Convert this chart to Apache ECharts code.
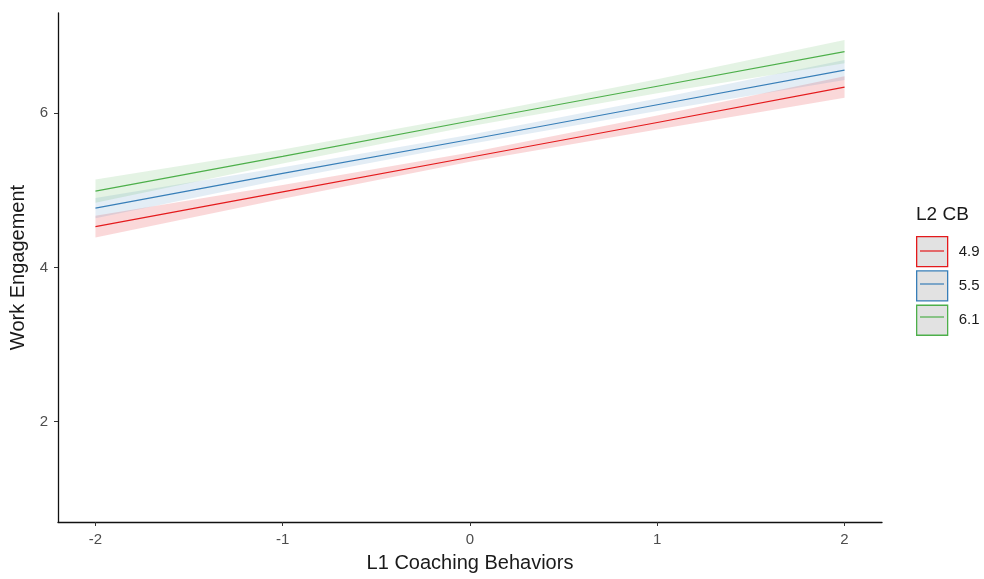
<!DOCTYPE html>
<html><head><meta charset="utf-8">
<script src="https://cdn.jsdelivr.net/npm/echarts@6/dist/echarts.min.js"></script>
<style>html,body{margin:0;padding:0;background:#fff}#c{width:984px;height:579px}</style>
</head><body><div id="c"></div>
<script>
// ---- data ----
const xValues = [-2, -1, 0, 1, 2];
const groupNames = ['4.9', '5.5', '6.1'];
const fit49 = [4.53, 4.98, 5.43, 5.88, 6.34];
const lower49 = [4.39, 4.89, 5.37, 5.79, 6.20];
const upper49 = [4.67, 5.07, 5.49, 5.97, 6.48];
const fit55 = [4.77, 5.22, 5.66, 6.11, 6.56];
const lower55 = [4.64, 5.14, 5.60, 6.03, 6.43];
const upper55 = [4.90, 5.30, 5.72, 6.19, 6.69];
const fit61 = [4.99, 5.44, 5.90, 6.35, 6.80];
const lower61 = [4.84, 5.35, 5.83, 6.26, 6.65];
const upper61 = [5.14, 5.53, 5.97, 6.44, 6.95];
const xTicks = [-2, -1, 0, 1, 2];
const yTicks = [2, 4, 6];

const colors = ['#E41A1C', '#377EB8', '#4DAF4A'];
const bandFills = ['rgba(228,26,28,0.17)', 'rgba(55,126,184,0.14)', 'rgba(77,175,74,0.15)'];
const fits = [fit49, fit55, fit61];
const lowers = [lower49, lower55, lower61];
const uppers = [upper49, upper55, upper61];
const FONT = 'Liberation Sans, Arial, sans-serif';

const series = [];
groupNames.forEach((g, k) => {
  const data = xValues.map((x, i) => [x, lowers[k][i], uppers[k][i]]);
  series.push({
    type: 'custom', name: 'band ' + g, silent: true, z: 1,
    data: data,
    encode: { x: 0, y: [1, 2] },
    renderItem: function (params, api) {
      if (params.dataIndex !== 0) return;
      const top = data.map(d => api.coord([d[0], d[2]]));
      const bot = data.slice().reverse().map(d => api.coord([d[0], d[1]]));
      return { type: 'polygon', shape: { points: top.concat(bot) }, style: { fill: bandFills[k], stroke: null } };
    }
  });
});
groupNames.forEach((g, k) => {
  series.push({
    type: 'line', name: g, z: 3, symbol: 'none', silent: true,
    data: xValues.map((x, i) => [x, fits[k][i]]),
    lineStyle: { color: colors[k], width: 1.2 }, itemStyle: { color: colors[k] }
  });
});

const chart = echarts.init(document.getElementById('c'));
chart.setOption({
  animation: false,
  backgroundColor: '#ffffff',
  grid: { left: 58, right: 102, top: 13, bottom: 57, containLabel: false },
  xAxis: {
    type: 'value', min: -2.2, max: 2.2,
    name: 'L1 Coaching Behaviors', nameLocation: 'middle', nameGap: 31,
    nameTextStyle: { fontFamily: FONT, fontSize: 20, color: '#1a1a1a' },
    splitLine: { show: false },
    axisLine: { show: true, onZero: false, lineStyle: { color: '#111', width: 1.3 } },
    axisTick: { show: true, length: 4, customValues: xTicks, lineStyle: { color: '#333' } },
    axisLabel: { customValues: xTicks, margin: 10, fontFamily: FONT, fontSize: 15, color: '#4d4d4d' }
  },
  yAxis: {
    type: 'value', min: 0.7, max: 7.3,
    name: 'Work Engagement', nameLocation: 'middle', nameGap: 23, nameRotate: 90,
    nameTextStyle: { fontFamily: FONT, fontSize: 20, color: '#1a1a1a' },
    splitLine: { show: false },
    axisLine: { show: true, onZero: false, lineStyle: { color: '#111', width: 1.3 } },
    axisTick: { show: true, length: 4, customValues: yTicks, lineStyle: { color: '#333' } },
    axisLabel: { customValues: yTicks, margin: 10, fontFamily: FONT, fontSize: 15, color: '#4d4d4d' }
  },
  legend: {
    data: groupNames.map((n, i) => ({ name: n, icon: 'rect', itemStyle: { color: '#e2e2e2', borderColor: colors[i], borderWidth: 1.3 } })),
    orient: 'vertical', left: 916, top: 236, padding: 0, itemWidth: 31, itemHeight: 30, itemGap: 3,
    textStyle: { fontFamily: FONT, fontSize: 15, color: '#1a1a1a', padding: [0, 0, 0, 6] },
    selectedMode: false
  },
  graphic: [
    { type: 'text', left: 916, top: 205, style: { text: 'L2 CB', font: '19px ' + FONT, fill: '#1a1a1a' } },
    { type: 'line', shape: { x1: 920, y1: 251, x2: 944, y2: 251 }, style: { stroke: colors[0], lineWidth: 1.2 }, z: 100 },
    { type: 'line', shape: { x1: 920, y1: 284, x2: 944, y2: 284 }, style: { stroke: colors[1], lineWidth: 1.2 }, z: 100 },
    { type: 'line', shape: { x1: 920, y1: 317, x2: 944, y2: 317 }, style: { stroke: colors[2], lineWidth: 1.2 }, z: 100 }
  ],
  series: series
});
</script></body></html>
